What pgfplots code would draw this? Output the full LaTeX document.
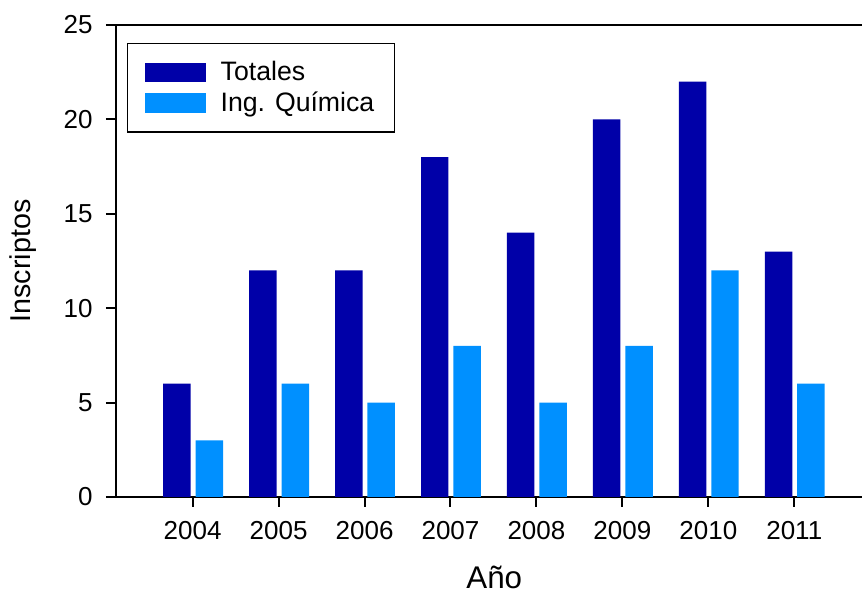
\documentclass[border=0pt]{standalone}
\usepackage{pgfplots}
\pgfplotsset{compat=1.18}
\usepackage{fontspec}
\setmainfont{Liberation Sans}
\definecolor{darkb}{RGB}{0,0,168}
\definecolor{lightb}{RGB}{0,144,255}
\begin{document}
\begin{tikzpicture}
\begin{axis}[
  name=ax,
  scale only axis,
  width=559.5pt, height=354pt,
  xmin=-0.892, xmax=7.788,
  ymin=0, ymax=25,
  axis lines=left,
  axis line style={-, line width=1.5pt, black},
  tick style={line width=1.5pt, black},
  tick align=outside,
  major tick length=7.5pt,
  xtick={0,1,2,3,4,5,6,7},
  xticklabels={2004,2005,2006,2007,2008,2009,2010,2011},
  ytick={0,5,10,15,20,25},
  /pgf/number format/assume math mode=true,
  ticklabel style={font=\fontsize{19.5}{23}\selectfont},
  xticklabel style={yshift=-7.5pt},
  yticklabel style={xshift=-6.5pt},
  xlabel={Año},
  ylabel={Inscriptos},
  xlabel style={font=\fontsize{23.5}{27}\selectfont, at={(axis description cs:0.507,0)}, anchor=base, yshift=-69pt},
  ylabel style={font=\fontsize{21.5}{25}\selectfont, at={(axis description cs:-0.1247,0.5)}, anchor=center},
  ybar, bar width=20.6pt,
  legend style={at={(axis description cs:0,1)}, anchor=north west,
    xshift=8.25pt, yshift=-13.5pt, draw=black, line width=1pt,
    font=\fontsize{20}{24}\selectfont,
    inner xsep=13pt, inner ysep=12.5pt,
    row sep=5pt,
    nodes={inner ysep=1pt},
    /tikz/every odd column/.append style={column sep=9pt}},
  legend cell align=left,
]
\addplot[fill=darkb, draw=none, bar shift=-11.8pt,
  legend image code/.code={\fill[darkb] (0pt,-7.3pt) rectangle (45.75pt,7.3pt);}]
  coordinates {(0,6) (1,12) (2,12) (3,18) (4,14) (5,20) (6,22) (7,13)};
\addlegendentry{Totales}
\addplot[fill=lightb, draw=none, bar shift=12.5pt,
  legend image code/.code={\fill[lightb] (0pt,-7.3pt) rectangle (45.75pt,7.3pt);}]
  coordinates {(0,3) (1,6) (2,5) (3,8) (4,5) (5,8) (6,12) (7,6)};
\addlegendentry{Ing. Química}
\draw[line width=1.5pt, black] (rel axis cs:0,1) -- (rel axis cs:1,1);
\coordinate (sw) at (rel axis cs:0,0);
\coordinate (ne) at (rel axis cs:1,1);
\end{axis}
\pgfresetboundingbox
\path (sw) ++(-87pt,-72.75pt) rectangle ([yshift=18.75pt]ne);
\end{tikzpicture}
\end{document}
